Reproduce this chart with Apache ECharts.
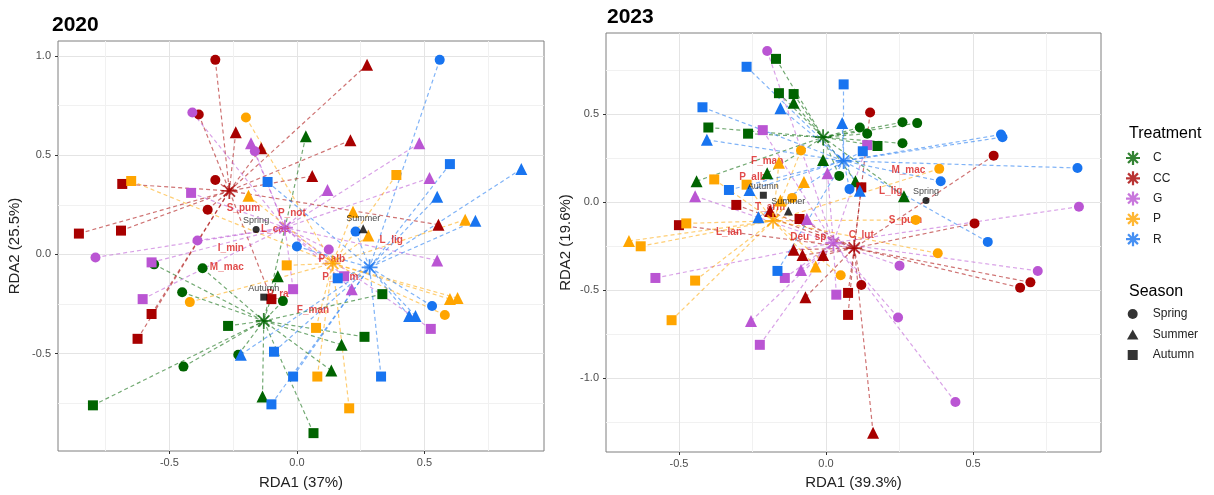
<!DOCTYPE html>
<html>
<head>
<meta charset="utf-8">
<script src="https://cdn.jsdelivr.net/npm/echarts@6/dist/echarts.min.js"></script>
<style>
  html, body { margin: 0; padding: 0; background: #fff; }
  #chart { width: 1214px; height: 495px; }
</style>
</head>
<body>
<div id="chart"></div>
<script>
// categories
var treatments = ['C', 'CC', 'G', 'P', 'R'];
var treatmentColors = ['#006400', '#A80000', '#BA55D3', '#FFA500', '#1874F0'];
var seasons = ['Spring', 'Summer', 'Autumn'];
var seasonCodes = ['Sp', 'Su', 'Au'];

// 2020 samples  [RDA1, RDA2, season]
var p20C = [[0.035,0.595,'Su'],[-0.56,-0.05,'Sp'],[-0.37,-0.07,'Sp'],[-0.075,-0.11,'Su'],[-0.45,-0.19,'Sp'],[-0.055,-0.235,'Sp'],
  [-0.27,-0.36,'Au'],[-0.23,-0.505,'Sp'],[-0.445,-0.565,'Sp'],[-0.135,-0.715,'Su'],[-0.80,-0.76,'Au'],[0.335,-0.20,'Au'],
  [0.265,-0.415,'Au'],[0.175,-0.455,'Su'],[0.135,-0.585,'Su'],[0.065,-0.90,'Au']];
var p20CC = [[-0.32,0.98,'Sp'],[-0.385,0.705,'Sp'],[-0.24,0.615,'Su'],[-0.14,0.535,'Su'],[-0.685,0.355,'Au'],[-0.32,0.375,'Sp'],
  [-0.35,0.225,'Sp'],[-0.855,0.105,'Au'],[-0.69,0.12,'Au'],[-0.57,-0.30,'Au'],[-0.625,-0.425,'Au'],[-0.10,-0.225,'Au'],
  [0.275,0.955,'Su'],[0.21,0.575,'Su'],[0.06,0.395,'Su'],[0.555,0.15,'Su']];
var p20G = [[-0.41,0.715,'Sp'],[-0.18,0.56,'Su'],[-0.165,0.52,'Sp'],[-0.415,0.31,'Au'],[-0.39,0.07,'Sp'],[-0.79,-0.015,'Sp'],
  [-0.57,-0.04,'Au'],[-0.605,-0.225,'Au'],[-0.015,-0.175,'Au'],[0.48,0.56,'Su'],[0.52,0.385,'Su'],[0.12,0.325,'Su'],
  [0.125,0.025,'Sp'],[0.185,-0.11,'Au'],[0.215,-0.175,'Su'],[0.55,-0.03,'Su'],[0.525,-0.375,'Au']];
var p20P = [[-0.20,0.69,'Sp'],[-0.65,0.37,'Au'],[-0.19,0.295,'Su'],[-0.42,-0.24,'Sp'],[-0.04,-0.055,'Au'],[0.39,0.40,'Au'],
  [0.22,0.215,'Su'],[0.66,0.175,'Su'],[0.28,0.095,'Su'],[0.60,-0.225,'Su'],[0.63,-0.22,'Su'],[0.58,-0.305,'Sp'],
  [0.075,-0.37,'Au'],[0.08,-0.615,'Au'],[0.205,-0.775,'Au']];
var p20R = [[-0.115,0.365,'Au'],[0.56,0.98,'Sp'],[0.60,0.455,'Au'],[0.88,0.43,'Su'],[0.55,0.29,'Su'],[0.70,0.17,'Su'],
  [0.23,0.115,'Sp'],[0.0,0.04,'Sp'],[0.16,-0.12,'Au'],[0.53,-0.26,'Sp'],[0.44,-0.31,'Su'],[0.465,-0.31,'Su'],
  [-0.22,-0.505,'Su'],[-0.09,-0.49,'Au'],[-0.015,-0.615,'Au'],[-0.10,-0.755,'Au'],[0.33,-0.615,'Au']];
var cent2020 = [[-0.13,-0.335],[-0.265,0.32],[-0.047,0.135],[0.14,-0.045],[0.285,-0.065]];
var season2020 = [[-0.16,0.125],[0.26,0.13],[-0.13,-0.215]];
var species2020 = [['S_pum',-0.21,0.235],['P_not',-0.02,0.205],['L_cae',-0.085,0.128],['I_min',-0.259,0.03],
  ['M_mac',-0.275,-0.065],['P_ra',-0.075,-0.2],['P_alb',0.137,-0.025],['P_umm',0.17,-0.117],['L_lig',0.37,0.07],['F_man',0.063,-0.28]];

// 2023 samples
var p23C = [[-0.17,0.815,'Au'],[-0.16,0.62,'Au'],[-0.11,0.615,'Au'],[-0.11,0.565,'Su'],[-0.40,0.425,'Au'],[-0.265,0.39,'Au'],
  [-0.01,0.24,'Su'],[0.045,0.15,'Sp'],[-0.20,0.165,'Su'],[-0.44,0.12,'Su'],[0.26,0.455,'Sp'],[0.31,0.45,'Sp'],
  [0.115,0.425,'Sp'],[0.14,0.39,'Sp'],[0.26,0.335,'Sp'],[0.175,0.32,'Au'],[0.10,0.12,'Su'],[0.265,0.035,'Su']];
var p23CC = [[0.15,0.51,'Sp'],[0.57,0.265,'Sp'],[0.12,0.085,'Au'],[0.505,-0.12,'Sp'],[0.12,-0.47,'Sp'],[0.075,-0.515,'Au'],
  [0.075,-0.64,'Au'],[0.695,-0.455,'Sp'],[0.66,-0.485,'Sp'],[0.16,-1.31,'Su'],[-0.305,-0.015,'Au'],[-0.19,-0.05,'Su'],
  [-0.09,-0.095,'Au'],[-0.50,-0.13,'Au'],[-0.11,-0.27,'Su'],[-0.08,-0.30,'Su'],[-0.01,-0.30,'Su'],[-0.07,-0.54,'Su']];
var p23G = [[-0.20,0.86,'Sp'],[-0.215,0.41,'Au'],[0.005,0.165,'Su'],[-0.445,0.035,'Su'],[-0.065,-0.095,'Su'],[0.14,0.325,'Au'],
  [0.86,-0.025,'Sp'],[0.25,-0.36,'Sp'],[0.035,-0.525,'Au'],[0.72,-0.39,'Sp'],[0.245,-0.655,'Sp'],[0.44,-1.135,'Sp'],
  [-0.14,-0.43,'Au'],[-0.085,-0.385,'Su'],[-0.58,-0.43,'Au'],[-0.255,-0.675,'Su'],[-0.225,-0.81,'Au']];
var p23P = [[-0.085,0.295,'Sp'],[-0.16,0.225,'Su'],[-0.38,0.13,'Au'],[-0.075,0.115,'Su'],[-0.27,0.10,'Au'],[-0.115,0.025,'Sp'],
  [-0.155,0.01,'Su'],[-0.475,-0.12,'Au'],[-0.67,-0.22,'Su'],[-0.63,-0.25,'Au'],[0.385,0.19,'Sp'],[0.305,-0.10,'Sp'],
  [0.38,-0.29,'Sp'],[0.05,-0.415,'Sp'],[-0.035,-0.365,'Su'],[-0.445,-0.445,'Au'],[-0.525,-0.67,'Au']];
var p23R = [[-0.27,0.77,'Au'],[0.06,0.67,'Au'],[-0.155,0.535,'Su'],[-0.42,0.54,'Au'],[-0.405,0.355,'Su'],[0.055,0.45,'Su'],
  [0.08,0.075,'Sp'],[-0.33,0.07,'Au'],[-0.26,0.07,'Su'],[-0.23,-0.085,'Su'],[0.595,0.385,'Sp'],[0.60,0.37,'Sp'],
  [0.125,0.29,'Au'],[0.855,0.195,'Sp'],[0.39,0.12,'Sp'],[0.115,0.065,'Su'],[0.55,-0.225,'Sp'],[-0.165,-0.39,'Au']];
var cent2023 = [[-0.01,0.37],[0.096,-0.26],[0.025,-0.23],[-0.18,-0.105],[0.06,0.235]];
var season2023 = [[0.34,0.01],[-0.128,-0.05],[-0.213,0.04]];
var species2023 = [['F_man',-0.20,0.235],['P_alb',-0.25,0.145],['T_arm',-0.19,-0.03],['L_lan',-0.33,-0.17],
  ['Deu_sp',-0.06,-0.20],['C_lut',0.12,-0.19],['S_pum',0.27,-0.10],['L_lig',0.22,0.06],['M_mac',0.28,0.18]];

// ticks
var xMajor = [-0.5, 0, 0.5];
var xMinor = [-0.75, -0.25, 0.25, 0.75];
var y20Major = [-0.5, 0, 0.5, 1.0];
var y20Minor = [-0.75, -0.25, 0.25, 0.75];
var y23Major = [-1.0, -0.5, 0, 0.5];
var y23Minor = [-1.25, -0.75, -0.25, 0.25, 0.75];

var FONT = 'Liberation Sans, Arial, sans-serif';
var starPath = 'path://M-10,-1.1L10,-1.1L10,1.1L-10,1.1Z M-1.1,-10L1.1,-10L1.1,10L-1.1,10Z ' +
  'M-6.29,-7.85L7.85,6.29L6.29,7.85L-7.85,-6.29Z M-7.85,6.29L6.29,-7.85L7.85,-6.29L-6.29,7.85Z';
var starIcon = 'path://M-10,-1.6L10,-1.6L10,1.6L-10,1.6Z M-1.6,-10L1.6,-10L1.6,10L-1.6,10Z ' +
  'M-5.94,-8.2L8.2,5.94L5.94,8.2L-8.2,-5.94Z M-8.2,5.94L5.94,-8.2L8.2,-5.94L-5.94,8.2Z';
var seasonIcons = [
  'path://M-5,0A5,5 0 1,0 5,0A5,5 0 1,0 -5,0Z',
  'path://M0,-5.5L6,5L-6,5Z',
  'path://M-5,-5L5,-5L5,5L-5,5Z'
];
var shapeOf = { Sp: 'circle', Su: 'triangle', Au: 'rect' };
var sizeOf = { Sp: 10, Su: 12, Au: 10 };

var chart = echarts.init(document.getElementById('chart'));
var series = [];

function addPanel(gi, groups, cents, seasonCents, species) {
  // dashed spokes to treatment centroid
  groups.forEach(function (pts, k) {
    series.push({
      type: 'lines', coordinateSystem: 'cartesian2d', xAxisIndex: gi, yAxisIndex: gi,
      silent: true, z: 1,
      lineStyle: { color: treatmentColors[k], width: 1.2, type: [4, 3], opacity: 0.55 },
      data: pts.map(function (p) { return { coords: [[p[0], p[1]], cents[k]] }; })
    });
  });
  // species labels
  series.push({
    type: 'scatter', xAxisIndex: gi, yAxisIndex: gi, z: 2, silent: true,
    symbolSize: 1, itemStyle: { color: 'rgba(0,0,0,0)' },
    label: { show: true, position: 'inside', formatter: '{b}', color: '#D91E1E',
      fontSize: 10, fontWeight: 'bold', fontFamily: FONT },
    data: species.map(function (s) { return { name: s[0], value: [s[1], s[2]] }; })
  });
  // samples
  groups.forEach(function (pts, k) {
    series.push({
      type: 'scatter', xAxisIndex: gi, yAxisIndex: gi, z: 3,
      itemStyle: { color: treatmentColors[k], opacity: 1 },
      data: pts.map(function (p) {
        return { value: [p[0], p[1]], symbol: shapeOf[p[2]], symbolSize: sizeOf[p[2]] };
      })
    });
  });
  // season centroids
  series.push({
    type: 'scatter', xAxisIndex: gi, yAxisIndex: gi, z: 4,
    itemStyle: { color: '#000' },
    label: { show: true, position: 'top', distance: 1, formatter: '{b}', color: '#111',
      fontSize: 9, fontFamily: FONT },
    data: seasonCents.map(function (c, i) {
      return { name: seasons[i], value: c, symbol: shapeOf[seasonCodes[i]], symbolSize: sizeOf[seasonCodes[i]] - 3 };
    })
  });
  // treatment centroids
  cents.forEach(function (c, k) {
    series.push({
      name: treatments[k], type: 'scatter', xAxisIndex: gi, yAxisIndex: gi, z: 5,
      symbol: starPath, symbolSize: 16,
      itemStyle: { color: treatmentColors[k] },
      data: [c]
    });
  });
}

addPanel(0, [p20C, p20CC, p20G, p20P, p20R], cent2020, season2020, species2020);
addPanel(1, [p23C, p23CC, p23G, p23P, p23R], cent2023, season2023, species2023);

// empty series for the season legend
seasons.forEach(function (s) {
  series.push({ name: s, type: 'scatter', xAxisIndex: 0, yAxisIndex: 0, itemStyle: { color: '#000' }, data: [] });
});

function fmt(v) { return v.toFixed(1); }

function mainAxis(gi, min, max, major, name, gap, isY) {
  return {
    type: 'value', gridIndex: gi, min: min, max: max,
    name: name, nameLocation: 'middle', nameGap: gap,
    nameTextStyle: { fontSize: 15, color: '#222', fontFamily: FONT },
    axisLine: { show: false, onZero: false },
    axisTick: { show: true, length: 3, lineStyle: { color: '#333' }, customValues: major },
    axisLabel: { customValues: major, formatter: fmt, fontSize: 11, color: '#4d4d4d',
      fontFamily: FONT, margin: isY ? 7 : 6 },
    splitLine: { show: true, lineStyle: { color: '#E4E4E4', width: 1 } }
  };
}
function minorAxis(gi, min, max, minor) {
  return {
    type: 'value', gridIndex: gi, min: min, max: max,
    axisLine: { show: false, onZero: false },
    axisTick: { show: false, customValues: minor },
    axisLabel: { show: false },
    splitLine: { show: true, lineStyle: { color: '#F1F1F1', width: 1 } }
  };
}

var option = {
  animation: false,
  backgroundColor: '#fff',
  textStyle: { fontFamily: FONT },
  title: [
    { text: '2020', left: 52, top: 15, padding: 0, textStyle: { fontSize: 21, fontWeight: 'bold', color: '#000', fontFamily: FONT } },
    { text: '2023', left: 607, top: 7, padding: 0, textStyle: { fontSize: 21, fontWeight: 'bold', color: '#000', fontFamily: FONT } },
    { text: 'Treatment', left: 1129, top: 126, padding: 0, textStyle: { fontSize: 16, fontWeight: 'normal', color: '#000', fontFamily: FONT } },
    { text: 'Season', left: 1129, top: 284, padding: 0, textStyle: { fontSize: 16, fontWeight: 'normal', color: '#000', fontFamily: FONT } }
  ],
  legend: [
    {
      orient: 'vertical', left: 1126, top: 151, itemWidth: 30, itemHeight: 14, itemGap: 6.3,
      selectedMode: false, padding: 0,
      textStyle: { fontSize: 12, color: '#222', lineHeight: 14, fontFamily: FONT },
      data: treatments.map(function (t) { return { name: t, icon: starIcon }; })
    },
    {
      orient: 'vertical', left: 1127, top: 307, itemWidth: 30, itemHeight: 10, itemGap: 6.5,
      selectedMode: false, padding: 0,
      textStyle: { fontSize: 12, color: '#222', lineHeight: 14, fontFamily: FONT },
      data: seasons.map(function (s, i) { return { name: s, icon: seasonIcons[i] }; })
    }
  ],
  grid: [
    { left: 58, top: 41, width: 486, height: 413, show: true, borderColor: '#7f7f7f', borderWidth: 1, containLabel: false },
    { left: 606, top: 33, width: 495, height: 421, show: true, borderColor: '#7f7f7f', borderWidth: 1, containLabel: false }
  ],
  xAxis: [
    mainAxis(0, -0.937, 0.969, xMajor, 'RDA1 (37%)', 24, false),
    mainAxis(1, -0.748, 0.935, xMajor, 'RDA1 (39.3%)', 23, false),
    minorAxis(0, -0.937, 0.969, xMinor),
    minorAxis(1, -0.748, 0.935, xMinor)
  ],
  yAxis: [
    mainAxis(0, -0.99, 1.075, y20Major, 'RDA2 (25.5%)', 36, true),
    mainAxis(1, -1.419, 0.962, y23Major, 'RDA2 (19.6%)', 33, true),
    minorAxis(0, -0.99, 1.075, y20Minor),
    minorAxis(1, -1.419, 0.962, y23Minor)
  ],
  series: series
};
chart.setOption(option);
</script>
</body>
</html>
